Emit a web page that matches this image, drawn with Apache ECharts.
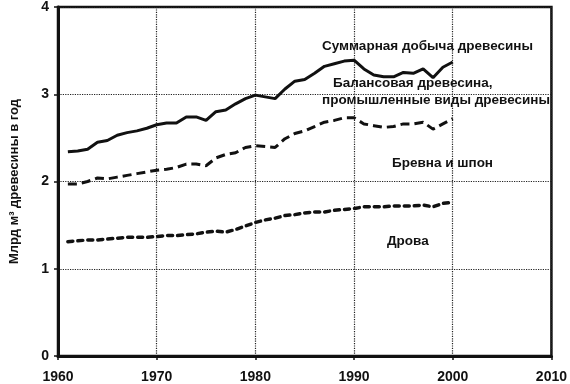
<!DOCTYPE html>
<html><head><meta charset="utf-8">
<script src="https://cdn.jsdelivr.net/npm/echarts@6/dist/echarts.min.js"></script>
<style>html,body{margin:0;padding:0;background:#fff}#c{width:570px;height:384px}</style>
</head><body><div id="c"></div>
<script>
const years = [1961,1962,1963,1964,1965,1966,1967,1968,1969,1970,1971,1972,1973,1974,1975,1976,1977,1978,1979,1980,1981,1982,1983,1984,1985,1986,1987,1988,1989,1990,1991,1992,1993,1994,1995,1996,1997,1998,1999,2000];
const totalWood = [2.34,2.35,2.37,2.45,2.47,2.53,2.56,2.58,2.61,2.65,2.67,2.67,2.74,2.74,2.70,2.80,2.82,2.89,2.95,2.99,2.97,2.95,3.06,3.15,3.17,3.24,3.32,3.35,3.38,3.39,3.29,3.22,3.20,3.20,3.25,3.24,3.29,3.19,3.31,3.37];
const industrialWood = [1.97,1.97,2.00,2.04,2.03,2.05,2.07,2.09,2.11,2.13,2.14,2.16,2.20,2.20,2.18,2.27,2.31,2.33,2.39,2.41,2.40,2.39,2.49,2.55,2.58,2.63,2.68,2.70,2.73,2.73,2.66,2.64,2.62,2.63,2.66,2.66,2.68,2.60,2.66,2.72];
const fuelWood = [1.31,1.32,1.33,1.33,1.34,1.35,1.36,1.36,1.36,1.37,1.38,1.38,1.39,1.40,1.42,1.43,1.42,1.45,1.49,1.53,1.56,1.58,1.61,1.62,1.64,1.65,1.65,1.67,1.68,1.69,1.71,1.71,1.71,1.72,1.72,1.72,1.73,1.71,1.75,1.76];
const xTicks = {min:1960, max:2010, interval:10};
const yTicks = {min:0, max:4, interval:1};
const yTitle = 'Млрд м³ древесины в год';
const labels = ['Суммарная добыча древесины','Балансовая древесина,','промышленные виды древесины','Бревна и шпон','Дрова'];

const pairs = v => years.map((y,i)=>[y,v[i]]);
const font = '"Liberation Sans", Arial, sans-serif';
const chart = echarts.init(document.getElementById('c'));
const txt = (x,y,t)=>({type:'text',left:x,top:y,style:{text:t,font:'bold 13.5px '+font,fill:'#111'}});
chart.setOption({
  animation:false,
  grid:{left:55,right:15,top:6,bottom:28,show:true,borderColor:'#111',borderWidth:2.5,backgroundColor:'transparent'},
  xAxis:{type:'value',min:xTicks.min,max:xTicks.max,interval:xTicks.interval,
    axisLine:{show:true,lineStyle:{color:'#111',width:3}},
    axisTick:{show:true,length:4,lineStyle:{color:'#111',width:1.5}},
    axisLabel:{color:'#111',fontFamily:font,fontWeight:'bold',fontSize:14,margin:14,formatter:v=>String(v)},
    splitLine:{show:true,lineStyle:{color:'#222',width:1.2,type:'dotted'}}},
  yAxis:{type:'value',min:yTicks.min,max:yTicks.max,interval:yTicks.interval,
    name:yTitle,nameLocation:'middle',nameGap:37,nameRotate:90,
    nameTextStyle:{color:'#111',fontFamily:font,fontWeight:'bold',fontSize:13},
    axisLine:{show:true,lineStyle:{color:'#111',width:3}},
    axisTick:{show:true,length:4,lineStyle:{color:'#111',width:1.5}},
    axisLabel:{color:'#111',fontFamily:font,fontWeight:'bold',fontSize:14,margin:9},
    splitLine:{show:true,lineStyle:{color:'#222',width:1.2,type:'dotted'}}},
  series:[
    {type:'line',data:pairs(totalWood),symbol:'none',lineStyle:{color:'#111',width:3}},
    {type:'line',data:pairs(industrialWood),symbol:'none',lineStyle:{color:'#111',width:3,type:[9,5]}},
    {type:'line',data:pairs(fuelWood),symbol:'none',lineStyle:{color:'#111',width:3.5,type:[5,5],cap:'round'}}
  ],
  graphic:[
    txt(322,39,labels[0]),
    txt(333,76,labels[1]),
    txt(322,93,labels[2]),
    txt(392,156,labels[3]),
    txt(387,234,labels[4])
  ]
});
</script></body></html>
